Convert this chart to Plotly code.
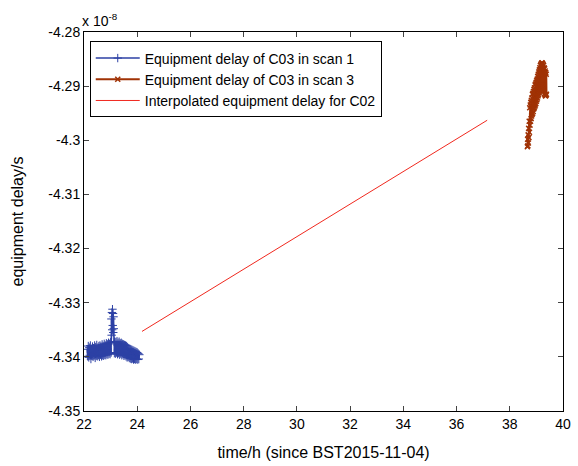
import plotly.graph_objects as go

# values in units of 1e-8 s
blue_x = [22.12,22.14,22.16,22.18,22.20,22.22,22.24,22.26,22.28,22.30,22.32,22.34,22.36,22.38,22.40,22.42,22.44,22.46,22.48,22.50,
          22.52,22.54,22.56,22.58,22.60,22.62,22.64,22.66,22.68,22.70,22.72,22.74,22.76,22.78,22.80,22.82,22.84,22.86,22.88,22.90,
          22.92,22.94,22.96,22.98,23.00,23.02,
          23.03,23.04,23.05,23.06,23.07,23.08,23.09,23.10,23.11,23.12,23.13,
          23.14,23.16,23.18,23.20,23.22,23.24,23.26,23.28,23.30,23.32,23.34,23.36,23.38,23.40,23.42,23.44,23.46,23.48,23.50,
          23.52,23.54,23.56,23.58,23.60,23.62,23.64,23.66,23.68,23.70,23.72,23.74,23.76,23.78,23.80,23.82,23.84,23.86,23.88,23.90,
          23.92,23.94,23.96,23.98,24.00,24.02,24.04,24.06,24.08]
blue_y = [-4.3386,-4.3399,-4.3380,-4.3401,-4.3383,-4.3397,-4.3379,-4.3404,-4.3385,-4.3398,-4.3381,-4.3400,-4.3384,-4.3396,-4.3379,-4.3402,-4.3382,-4.3398,-4.3378,-4.3399,
          -4.3383,-4.3397,-4.3380,-4.3400,-4.3379,-4.3396,-4.3381,-4.3399,-4.3377,-4.3397,-4.3380,-4.3398,-4.3376,-4.3396,-4.3379,-4.3397,-4.3375,-4.3395,-4.3377,-4.3396,
          -4.3374,-4.3394,-4.3376,-4.3395,-4.3373,-4.3392,
          -4.3330,-4.3360,-4.3318,-4.3350,-4.3312,-4.3342,-4.3320,-4.3355,-4.3326,-4.3348,-4.3372,
          -4.3393,-4.3372,-4.3394,-4.3373,-4.3392,-4.3371,-4.3395,-4.3374,-4.3393,-4.3372,-4.3396,-4.3375,-4.3394,-4.3374,-4.3397,-4.3376,-4.3395,-4.3377,-4.3398,
          -4.3378,-4.3397,-4.3379,-4.3399,-4.3380,-4.3401,-4.3382,-4.3400,-4.3384,-4.3402,-4.3385,-4.3403,-4.3386,-4.3404,-4.3387,-4.3403,-4.3388,-4.3405,-4.3389,-4.3404,
          -4.3390,-4.3405,-4.3391,-4.3404,-4.3392,-4.3405,-4.3394,-4.3404,-4.3396]

brown_x = [38.66,38.67,38.68,38.69,38.70,38.71,38.72,38.73,38.74,38.75,38.76,38.77,38.78,38.79,38.80,38.81,38.82,38.83,38.84,38.85,
           38.86,38.87,38.88,38.89,38.90,38.91,38.92,38.93,38.94,38.95,38.96,38.97,38.98,38.99,39.00,39.01,39.02,39.03,39.04,39.05,
           39.06,39.07,39.08,39.09,39.10,39.11,39.12,39.13,39.14,39.15,39.16,39.17,39.18,39.19,39.20,39.21,39.22,39.23,39.24,39.25,
           39.26,39.27,39.28,39.29,39.30,39.31,39.32,39.33,39.34,39.35,39.36,39.37,39.38]
brown_y = [-4.3012,-4.2998,-4.3010,-4.2990,-4.3005,-4.2978,-4.2995,-4.2965,-4.2985,-4.2940,-4.2972,-4.2935,-4.2965,-4.2930,-4.2960,-4.2926,-4.2955,-4.2922,-4.2952,-4.2915,
           -4.2950,-4.2913,-4.2947,-4.2910,-4.2942,-4.2906,-4.2940,-4.2903,-4.2937,-4.2898,-4.2935,-4.2896,-4.2932,-4.2893,-4.2928,-4.2890,-4.2925,-4.2887,-4.2922,-4.2882,
           -4.2918,-4.2878,-4.2915,-4.2874,-4.2912,-4.2870,-4.2908,-4.2866,-4.2905,-4.2862,-4.2902,-4.2860,-4.2898,-4.2858,-4.2895,-4.2857,-4.2898,-4.2858,-4.2902,-4.2860,
           -4.2906,-4.2862,-4.2910,-4.2866,-4.2914,-4.2868,-4.2916,-4.2872,-4.2918,-4.2875,-4.2917,-4.2878,-4.2915]

red_x = [24.18, 37.15]
red_y = [-4.3353, -4.2963]

x_ticks = [22, 24, 26, 28, 30, 32, 34, 36, 38, 40]
y_ticks = [-4.35, -4.34, -4.33, -4.32, -4.31, -4.30, -4.29, -4.28]
y_tick_text = ["-4.35", "-4.34", "-4.33", "-4.32", "-4.31", "-4.3", "-4.29", "-4.28"]

blue = "rgb(45,65,165)"
brown = "rgb(160,50,5)"
red = "rgb(240,40,30)"

fig = go.Figure()
fig.add_trace(go.Scatter(x=blue_x, y=blue_y, mode="lines+markers",
                         line=dict(color=blue, width=1.5),
                         marker=dict(symbol="cross-thin", size=6, line=dict(color=blue, width=1)),
                         name="Equipment delay of C03 in scan 1"))
fig.add_trace(go.Scatter(x=brown_x, y=brown_y, mode="lines+markers",
                         line=dict(color=brown, width=2),
                         marker=dict(symbol="x-thin", size=5, line=dict(color=brown, width=1.5)),
                         name="Equipment delay of C03 in scan 3"))
fig.add_trace(go.Scatter(x=red_x, y=red_y, mode="lines",
                         line=dict(color=red, width=1),
                         name="Interpolated equipment delay for C02"))

font_family = "Liberation Sans, Arial, sans-serif"
fig.update_layout(
    width=578, height=466,
    margin=dict(l=84, r=15, t=32, b=55, autoexpand=False),
    paper_bgcolor="white", plot_bgcolor="white",
    font=dict(family=font_family, size=14, color="black"),
    showlegend=True,
    legend=dict(x=0.012, y=0.975, xanchor="left", yanchor="top",
                bgcolor="white", bordercolor="black", borderwidth=1,
                font=dict(size=14), tracegroupgap=0, itemwidth=44),
    xaxis=dict(range=[22, 40], tickvals=x_ticks, ticks="inside", ticklen=5,
               showline=True, linecolor="black", linewidth=1, mirror="ticks",
               showgrid=False, zeroline=False, automargin=False,
               title=dict(text="time/h (since BST2015-11-04)", font=dict(size=16), standoff=16)),
    yaxis=dict(range=[-4.35, -4.28], tickvals=y_ticks, ticktext=y_tick_text,
               ticks="inside", ticklen=5,
               showline=True, linecolor="black", linewidth=1, mirror="ticks",
               showgrid=False, zeroline=False, automargin=False,
               title=dict(text="equipment delay/s", font=dict(size=16), standoff=20)),
    annotations=[dict(text="x 10<sup>-8</sup>", x=-0.008, y=1, xref="paper", yref="paper",
                      xanchor="left", yanchor="bottom", showarrow=False,
                      font=dict(size=14), yshift=1)],
)

fig.write_html("out.html", config={"displayModeBar": False},
               post_script="document.body.style.margin='0';document.body.style.padding='0';")
